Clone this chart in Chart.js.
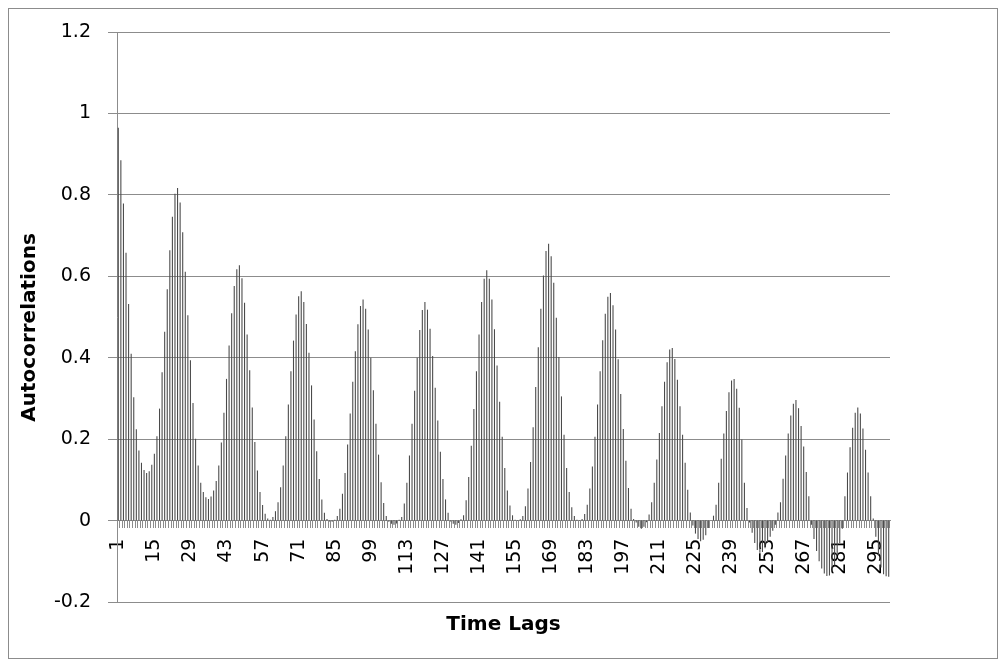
<!DOCTYPE html>
<html>
<head>
<meta charset="utf-8">
<script src="https://cdn.jsdelivr.net/npm/chart.js@4.4.0/dist/chart.umd.min.js"></script>
<style>
  html, body { margin: 0; padding: 0; background: #fff; }
  #wrap { position: relative; width: 1005px; height: 666px; }
  #frame { position: absolute; left: 8px; top: 8px; width: 988px; height: 649px; border: 1px solid #8c8c8c; pointer-events: none; }
</style>
</head>
<body>
<div id="wrap">
  <canvas id="acfChart" width="1005" height="666"></canvas>
  <div id="frame"></div>
</div>
<script>
// lags 1..300
var lagLabels = [];
for (var i = 1; i <= 300; i++) lagLabels.push(String(i));

// autocorrelation at each lag (12 per row)
var autocorrelations = [
  0.965, 0.885, 0.779, 0.658, 0.532, 0.41, 0.303, 0.224, 0.172, 0.142, 0.124, 0.117,      // 1-12
  0.121, 0.137, 0.164, 0.207, 0.275, 0.364, 0.464, 0.568, 0.664, 0.746, 0.803, 0.817,     // 13-24
  0.781, 0.708, 0.611, 0.504, 0.394, 0.289, 0.201, 0.135, 0.093, 0.07, 0.057, 0.053,      // 25-36
  0.059, 0.074, 0.097, 0.135, 0.192, 0.265, 0.348, 0.43, 0.509, 0.576, 0.617, 0.627,     // 37-48
  0.595, 0.535, 0.457, 0.369, 0.278, 0.193, 0.123, 0.07, 0.038, 0.017, 0.005, 0.002,      // 49-60
  0.009, 0.023, 0.045, 0.082, 0.135, 0.207, 0.285, 0.367, 0.442, 0.506, 0.551, 0.563,     // 61-72
  0.537, 0.483, 0.412, 0.332, 0.248, 0.17, 0.102, 0.052, 0.019, 0.004, -0.002, -0.003,    // 73-84
  0.002, 0.011, 0.029, 0.066, 0.117, 0.187, 0.263, 0.341, 0.416, 0.482, 0.527, 0.543,     // 85-96
  0.52, 0.469, 0.4, 0.32, 0.238, 0.162, 0.094, 0.043, 0.011, -0.003, -0.008, -0.01,       // 97-108
  -0.007, 0.002, 0.009, 0.042, 0.093, 0.16, 0.238, 0.319, 0.4, 0.468, 0.517, 0.537,      // 109-120
  0.518, 0.471, 0.404, 0.326, 0.246, 0.169, 0.102, 0.052, 0.019, -0.002, -0.008, -0.01,   // 121-132
  -0.006, 0.003, 0.013, 0.05, 0.107, 0.184, 0.274, 0.367, 0.457, 0.537, 0.594, 0.615,     // 133-144
  0.594, 0.543, 0.47, 0.381, 0.292, 0.206, 0.129, 0.074, 0.037, 0.013, 0.002, -0.001,     // 145-156
  0.003, 0.011, 0.035, 0.079, 0.144, 0.229, 0.328, 0.426, 0.52, 0.602, 0.662, 0.68,       // 157-168
  0.649, 0.584, 0.498, 0.402, 0.305, 0.211, 0.129, 0.07, 0.033, 0.011, 0.002, 0.001,      // 169-180
  0.004, 0.016, 0.039, 0.079, 0.133, 0.206, 0.285, 0.367, 0.443, 0.508, 0.55, 0.559,     // 181-192
  0.529, 0.469, 0.396, 0.311, 0.225, 0.147, 0.08, 0.029, 0.004, -0.005, -0.015, -0.02,    // 193-204
  -0.015, -0.004, 0.015, 0.045, 0.093, 0.15, 0.215, 0.281, 0.341, 0.389, 0.42, 0.424,    // 205-216
  0.397, 0.346, 0.281, 0.211, 0.142, 0.076, 0.02, -0.012, -0.032, -0.045, -0.051, -0.047, // 217-228
  -0.036, -0.018, 0.0, 0.012, 0.039, 0.093, 0.152, 0.214, 0.269, 0.315, 0.344, 0.348,    // 229-240
  0.324, 0.277, 0.199, 0.093, 0.031, -0.005, -0.03, -0.055, -0.072, -0.079, -0.077, -0.068, // 241-252
  -0.055, -0.04, -0.025, -0.01, 0.02, 0.045, 0.103, 0.16, 0.214, 0.258, 0.287, 0.296,    // 253-264
  0.276, 0.232, 0.182, 0.119, 0.06, -0.01, -0.045, -0.075, -0.1, -0.118, -0.13, -0.136,  // 265-276
  -0.135, -0.125, -0.11, -0.085, -0.055, -0.02, 0.06, 0.118, 0.18, 0.228, 0.265, 0.278,  // 277-288
  0.263, 0.226, 0.174, 0.118, 0.06, 0.005, -0.04, -0.085, -0.115, -0.132, -0.137, -0.138 // 289-300
];

var yMin = -0.2;
var yMax = 1.2;
var yStep = 0.2;
var labelEvery = 14;

var fontFamily = '"DejaVu Sans", Verdana, sans-serif';

var ctx = document.getElementById('acfChart').getContext('2d');
var chart = new Chart(ctx, {
    type: 'bar',
    data: {
        labels: lagLabels,
        datasets: [{
            label: 'Autocorrelations',
            data: autocorrelations,
            backgroundColor: '#4a4a4a',
            borderWidth: 0,
            barPercentage: 0.42,
            categoryPercentage: 1.0
        }]
    },
    options: {
        responsive: false,
        animation: false,
        devicePixelRatio: 1,
        layout: {
            padding: { left: 0, right: 115, top: 32, bottom: 0 }
        },
        plugins: {
            legend: { display: false },
            tooltip: { enabled: false },
            title: {
                display: true,
                fullSize: false,
                position: 'bottom',
                text: 'Time Lags',
                color: '#000',
                font: { family: fontFamily, size: 20, weight: 'bold', lineHeight: 1.2 },
                padding: { top: 11, bottom: 29 }
            }
        },
        scales: {
            x: {
                position: { y: 0 },
                offset: true,
                grid: {
                    drawOnChartArea: false,
                    drawTicks: true,
                    tickLength: 7,
                    color: '#8c8c8c'
                },
                border: { display: true, color: '#8c8c8c', width: 1 },
                ticks: {
                    autoSkip: false,
                    minRotation: 90,
                    maxRotation: 90,
                    padding: 11,
                    color: '#000',
                    font: { family: fontFamily, size: 19 },
                    callback: function (value, index) {
                        return index % labelEvery === 0 ? this.getLabelForValue(value) : '';
                    }
                }
            },
            y: {
                min: yMin,
                max: yMax,
                ticks: {
                    stepSize: yStep,
                    padding: 17,
                    color: '#000',
                    font: { family: fontFamily, size: 19 },
                    callback: function (value) {
                        return String(Number(value.toFixed(1)));
                    }
                },
                grid: {
                    color: '#8c8c8c',
                    lineWidth: 1,
                    drawTicks: true,
                    tickLength: 9
                },
                border: { color: '#8c8c8c' },
                title: {
                    display: true,
                    text: 'Autocorrelations   ',
                    color: '#000',
                    font: { family: fontFamily, size: 20, weight: 'bold', lineHeight: 1.2 },
                    padding: { top: 18, bottom: 0 }
                },
                afterFit: function (scale) {
                    scale.width = 117;
                }
            }
        }
    }
});
</script>
</body>
</html>
